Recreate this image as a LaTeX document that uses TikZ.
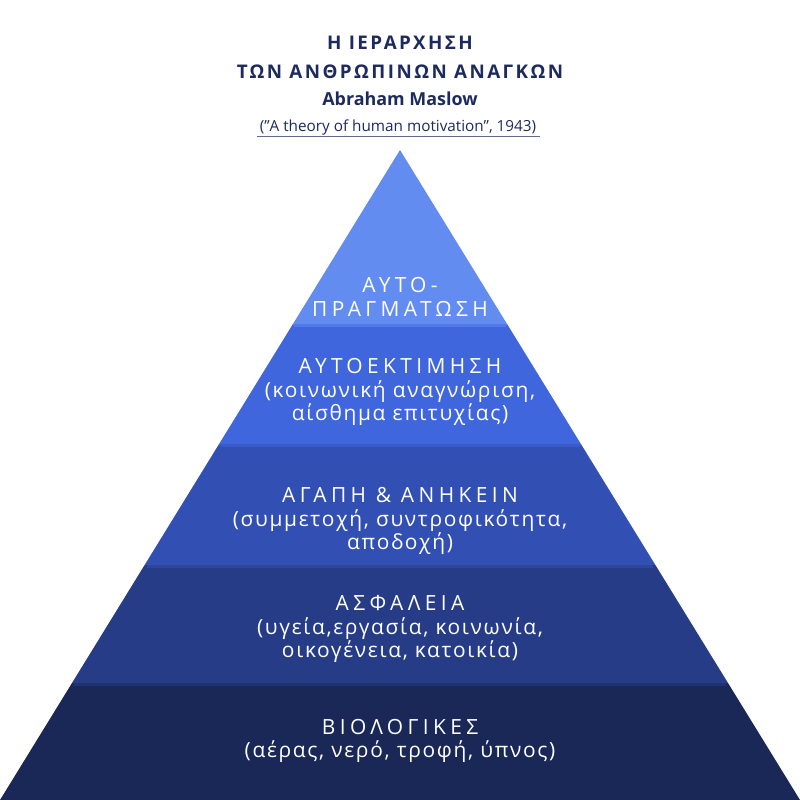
\documentclass[tikz,border=0pt]{standalone}
\usepackage{fontspec}
\setmainfont{Open Sans}
\newfontfamily\headfont[LetterSpace=13]{Open Sans}
\newfontfamily\tierfont[LetterSpace=21]{Open Sans}
\newfontfamily\notefont[LetterSpace=8]{Open Sans}
\usetikzlibrary{calc, positioning}
\definecolor{navy}{RGB}{28,42,94}
\definecolor{tierone}{RGB}{99,140,241}
\definecolor{tiertwo}{RGB}{63,102,221}
\definecolor{tierthree}{RGB}{50,80,180}
\definecolor{tierfour}{RGB}{38,60,134}
\definecolor{tierfive}{RGB}{26,40,88}
\tikzset{
  heading/.style={text=navy, align=center, inner sep=0pt,
                  font=\headfont\bfseries\fontsize{10.7}{16.6}\selectfont},
  author/.style={text=navy, inner sep=0pt,
                 font=\bfseries\fontsize{10.2}{12}\selectfont},
  source/.style={text=navy, inner sep=0pt, font=\fontsize{8.7}{10}\selectfont},
  tiertext/.style={text=white, align=center, inner sep=0pt,
                   font=\tierfont\fontsize{11.9}{13.2}\selectfont},
  bevel/.style={line width=1.7pt},
}

\begin{document}
\begin{tikzpicture}[x=0.02cm, y=-0.02cm]
  \useasboundingbox (0,0) rectangle (800,800);

  % Pyramid corners and tier boundaries
  \coordinate (apex) at (400,150);
  \coordinate (bl) at (0,800);
  \coordinate (br) at (800,800);
  \coordinate (l1) at ($(apex)!0.2692!(bl)$);
  \coordinate (r1) at ($(apex)!0.2692!(br)$);
  \coordinate (l2) at ($(apex)!0.4538!(bl)$);
  \coordinate (r2) at ($(apex)!0.4538!(br)$);
  \coordinate (l3) at ($(apex)!0.6385!(bl)$);
  \coordinate (r3) at ($(apex)!0.6385!(br)$);
  \coordinate (l4) at ($(apex)!0.82!(bl)$);
  \coordinate (r4) at ($(apex)!0.82!(br)$);

  \fill[tierone] (apex) -- (r1) -- (l1) -- cycle;
  \fill[tiertwo] (l1) -- (r1) -- (r2) -- (l2) -- cycle;
  \fill[tierthree] (l2) -- (r2) -- (r3) -- (l3) -- cycle;
  \fill[tierfour] (l3) -- (r3) -- (r4) -- (l4) -- cycle;
  \fill[tierfive] (l4) -- (r4) -- (br) -- (bl) -- cycle;

  % Thin edges between tiers
  \draw[bevel, tierone!50!tiertwo] ($(l1)+(2,1)$) -- ($(r1)+(-2,1)$);
  \draw[bevel, tiertwo!50!tierthree] ($(l2)+(2,1)$) -- ($(r2)+(-2,1)$);
  \draw[bevel, tierthree!50!tierfour] ($(l3)+(2,1)$) -- ($(r3)+(-2,1)$);
  \draw[bevel, tierfour!50!tierfive] ($(l4)+(2,1)$) -- ($(r4)+(-2,1)$);

  % Title
  \node[heading] (title) at (400,57)
    {Η ΙΕΡΑΡΧΗΣΗ\\ΤΩΝ ΑΝΘΡΩΠΙΝΩΝ ΑΝΑΓΚΩΝ};
  \node[author] (maslow) at (400,99) {Abraham Maslow};
  \node[source] (paper) at (398,127)
    {(”A theory of human motivation”, 1943)};
  \draw[navy!70, line width=0.5pt] ($(paper.south west)+(-2,1)$) --
    ($(paper.south east)+(3,1)$);

  % Tier labels
  \node[tiertext] (selfact) at (400,297) {ΑΥΤΟ-\\ΠΡΑΓΜΑΤΩΣΗ};
  \node[tiertext] (esteem) at (400,392)
    {ΑΥΤΟΕΚΤΙΜΗΣΗ\\{\notefont(κοινωνική αναγνώριση,}\\{\notefont αίσθημα επιτυχίας)}};
  \node[tiertext] (love) at (400,521)
    {ΑΓΑΠΗ \& ΑΝΗΚΕΙΝ\\{\notefont(συμμετοχή, συντροφικότητα,}\\{\notefont αποδοχή)}};
  \node[tiertext] (safety) at (400,629)
    {ΑΣΦΑΛΕΙΑ\\{\notefont(υγεία,εργασία, κοινωνία,}\\{\notefont οικογένεια, κατοικία)}};
  \node[tiertext] (bio) at (400,741)
    {ΒΙΟΛΟΓΙΚΕΣ\\{\notefont(αέρας, νερό, τροφή, ύπνος)}};
\end{tikzpicture}
\end{document}
